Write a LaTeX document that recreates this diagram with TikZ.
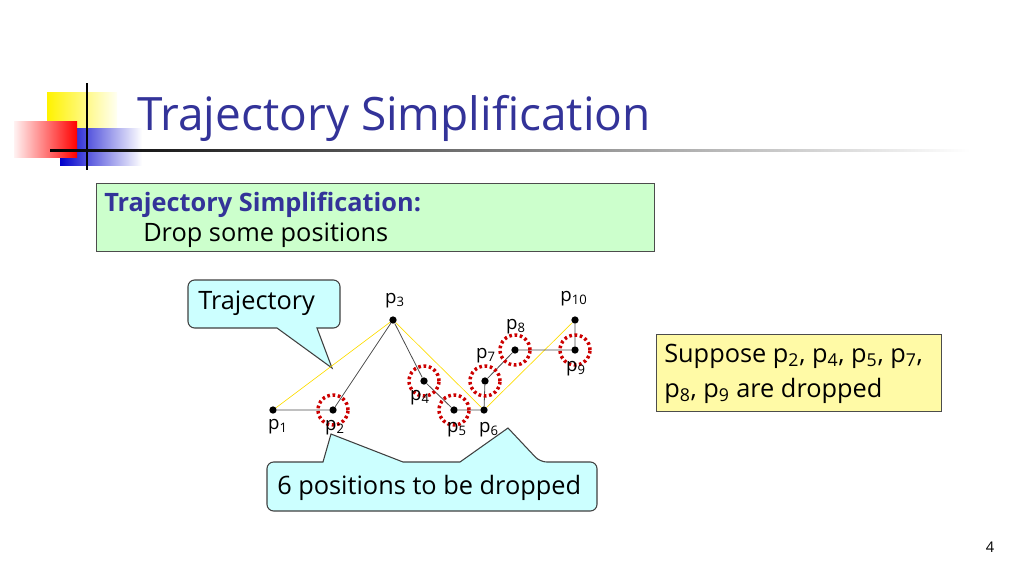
\documentclass[tikz,border=0pt]{standalone}
\usepackage{fontspec}
\setmainfont{Open Sans}
\usetikzlibrary{shadings}
\definecolor{tblue}{HTML}{333399}
\definecolor{callf}{HTML}{CCFFFF}
\definecolor{dred}{HTML}{CC0000}
\newcommand{\sbs}[1]{\textsubscript{#1}}
\begin{document}
\begin{tikzpicture}[x=0.75pt,y=-0.75pt,
  pt/.style={circle,fill=black,inner sep=0pt,minimum size=5.5pt},
  lab/.style={font=\fontsize{14}{16}\selectfont,inner sep=0pt},
  drop/.style={draw=dred,line width=2.6pt,dash pattern=on 2pt off 2pt,circle,minimum size=22.5pt,inner sep=0pt},
  call/.style={draw=black!75,fill=callf,line width=0.8pt,rounded corners=5pt},
  txt/.style={font=\fontsize{19}{22}\selectfont}]
\useasboundingbox (0,0) rectangle (1024,575);
% logo
\fill[left color=yellow!90!orange, right color=yellow!5] (47,92) rectangle (117,150);
\fill[left color=blue!80!black, right color=white] (60,128) rectangle (142,165);
\fill[left color=red!5, right color=red] (14,121) rectangle (77,157);
\draw[line width=1.5pt] (87,83) -- (87,170);
\shade[left color=black, right color=white] (50,149) rectangle (970,151.5);
\node[anchor=base west,text=tblue,font=\fontsize{34.5}{40}\selectfont,inner sep=0] (title) at (137,130) {Trajectory Simplification};
% green box
\node[draw=black!70,fill=green!20,minimum width=418.5pt,minimum height=51pt,anchor=north west] (gbox) at (96,183) {};
\node[anchor=base west,txt,text=tblue,inner sep=0] (g1) at (104,211) {\bfseries Trajectory Simplification:};
\node[anchor=base west,txt,inner sep=0] (g2) at (143,241) {Drop some positions};
% yellow box
\node[draw=black!70,fill=yellow!35,minimum width=213.75pt,minimum height=57.75pt,anchor=north west] (ybox) at (656,334) {};
\node[anchor=base west,txt,inner sep=0] (y1) at (664,362) {Suppose p\sbs{2}, p\sbs{4}, p\sbs{5}, p\sbs{7},};
\node[anchor=base west,txt,inner sep=0] (y2) at (664,397) {p\sbs{8}, p\sbs{9} are dropped};
% callouts
\draw[call] (277,328) -- (202,328) [rounded corners=5pt]-- (188,328) -- (188,280) -- (340,280) -- (340,328) [sharp corners]-- (317,328) -- (332,368) -- cycle;
\node[anchor=base west,txt,inner sep=0] (ctraj) at (198,309) {Trajectory};
\draw[call] (323,462) -- (267,462) -- (267,511) -- (597,511) -- (597,462) -- (540,462) [sharp corners]-- (508,428) -- (460,462) -- (403,462) -- (331,434) -- cycle;
\node[anchor=base west,txt,inner sep=0] (cdrop) at (277,494) {6 positions to be dropped};
% points
\foreach \n/\x/\y in {1/273/410,2/333/410,3/393/320,4/424/381,5/454/410,6/484/410,7/485/381,8/515/350,9/575/350,10/575/320}
  \node[pt] (p\n) at (\x,\y) {};
\draw[yellow!80!orange,line width=0.5pt] (p1) -- (p3) -- (p6) -- (p10);
\draw[black!70,line width=0.6pt] (p1) -- (p2) -- (p3) -- (p4) -- (p5) -- (p6) -- (p7) -- (p8) -- (p9) -- (p10);
\foreach \n in {2,4,5,7,8,9} \node[drop] (d\n) at (p\n) {};
\foreach \n/\x/\y in {1/278/427,2/335/428,3/395/301,4/420/398,5/457/430,6/489/430,7/486/356,8/516/327,9/576/369,10/574/299}
  \node[lab] (l\n) at (\x,\y) {p\sbs{\n}};
\node[font=\fontsize{11}{12}\selectfont] (pg) at (990,547) {4};
\end{tikzpicture}
\end{document}
